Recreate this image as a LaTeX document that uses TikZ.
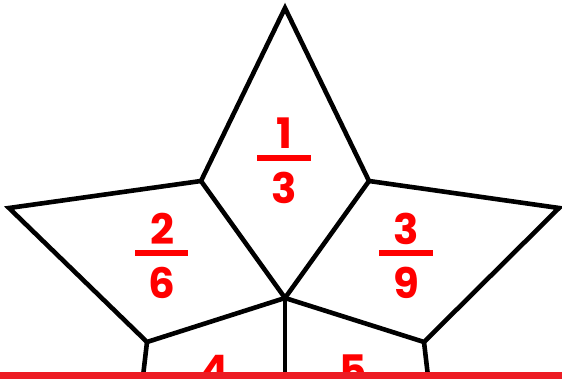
\documentclass[tikz,border=0pt]{standalone}
\usepackage{fontspec}
\setmainfont{Poppins}[UprightFont=*-Bold]
\definecolor{barred}{RGB}{237,28,36}
\begin{document}
\begin{tikzpicture}[x=1pt,y=-1pt,
  edge/.style={draw=black,line width=4.6pt,line join=miter},
  lab/.style={text=red,font=\fontsize{42}{42}\selectfont,inner sep=0pt,anchor=center},
  fbar/.style={draw=red,line width=6pt}]
\useasboundingbox (0,0) rectangle (562,379);
\clip (0,0) rectangle (562,379);
\coordinate (T) at (285,8);
\coordinate (L) at (9,208);
\coordinate (R) at (559,208);
\coordinate (A) at (201,181);
\coordinate (B) at (369,181);
\coordinate (C) at (285,298);
\coordinate (D) at (147,342);
\coordinate (E) at (424,342);
\coordinate (Db) at (142,385);
\coordinate (Cb) at (285,385);
\coordinate (Eb) at (429,385);
\draw[edge] (A) -- (T) -- (B);
\draw[edge] (A) -- (C) -- (B);
\draw[edge] (A) -- (L) -- (D) -- (C);
\draw[edge] (B) -- (R) -- (E) -- (C);
\draw[edge] (D) -- (Db);
\draw[edge] (C) -- (Cb);
\draw[edge] (E) -- (Eb);
% labels
\node[lab] (n1) at (284,133) {1};
\coordinate (b1l) at (257,158); \coordinate (b1r) at (311,158);
\draw[fbar] (b1l) -- (b1r);
\node[lab] (d1) at (284,188) {3};
\node[lab] (n2) at (162,229) {2};
\coordinate (b2l) at (135,253); \coordinate (b2r) at (188,253);
\draw[fbar] (b2l) -- (b2r);
\node[lab] (d2) at (162,283) {6};
\node[lab] (n3) at (406,229) {3};
\coordinate (b3l) at (379,253); \coordinate (b3r) at (433,253);
\draw[fbar] (b3l) -- (b3r);
\node[lab] (d3) at (406,283) {9};
\node[lab] (n4) at (215,370) {4};
\node[lab] (n5) at (353,370) {5};
\fill[barred] (0,372) rectangle (562,380);
\end{tikzpicture}
\end{document}
